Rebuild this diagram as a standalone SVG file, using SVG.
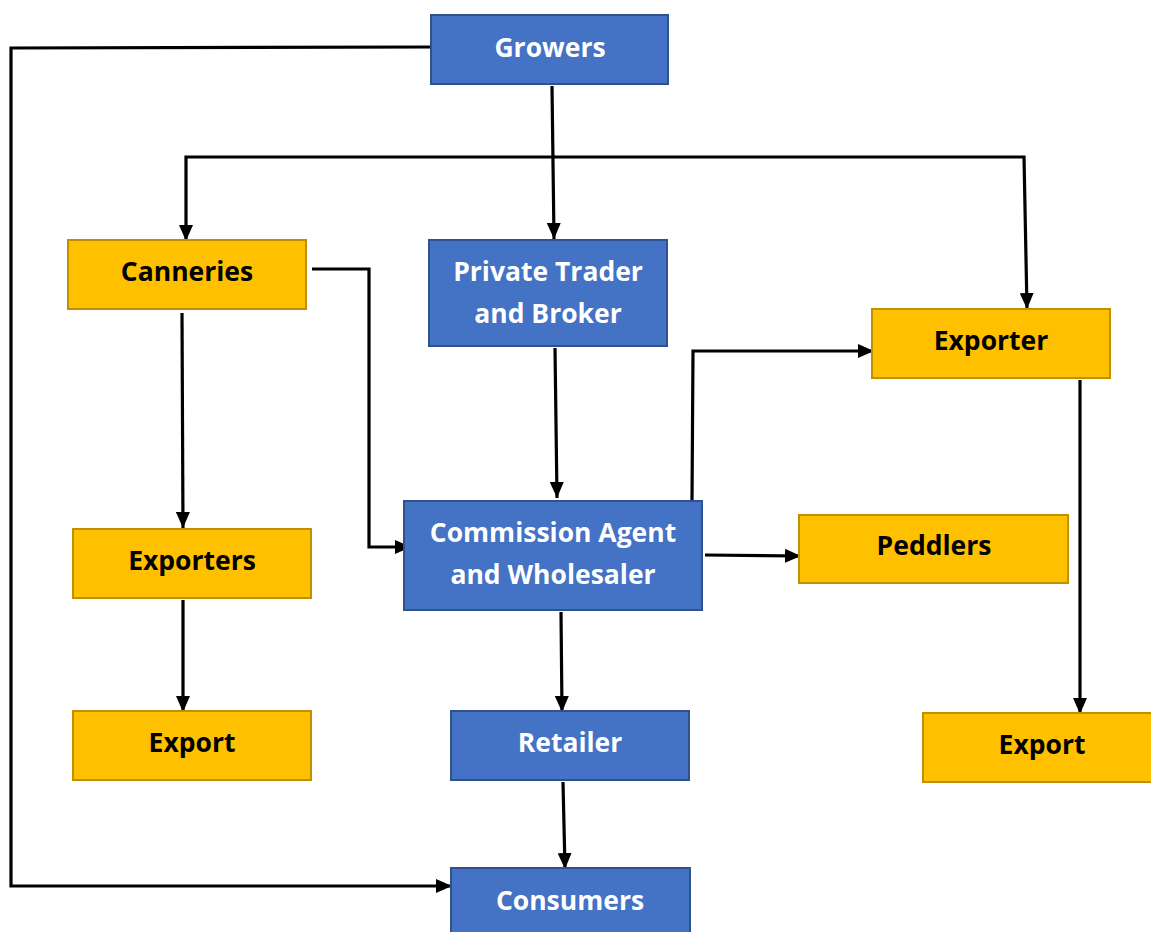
<svg xmlns="http://www.w3.org/2000/svg" width="1151" height="932" viewBox="0 0 1151 932">
  <defs>
    <marker id="arrow" viewBox="0 0 16 14" refX="16" refY="7" markerWidth="16" markerHeight="14" markerUnits="userSpaceOnUse" orient="auto">
      <path d="M0,0 L16,7 L0,14 Z" fill="#000"/>
    </marker>
    <style>
      .blue { fill: #4472C4; stroke: #2F528F; stroke-width: 2; }
      .gold { fill: #FFC000; stroke: #BF9000; stroke-width: 2; }
      .lbl { font-family: "Open Sans", "Liberation Sans", sans-serif; font-weight: 700; font-size: 26.5px; text-anchor: middle; }
      .lw { fill: #FFFFFF; }
      .lk { fill: #000000; }
      .wire { fill: none; stroke: #000; stroke-width: 3.2; }
      .arr { marker-end: url(#arrow); }
    </style>
  </defs>
  <rect width="1151" height="932" fill="#FFFFFF"/>

  <g id="connectors">
    <!-- growers straight to consumers -->
    <polyline class="wire arr" points="431,47 11,48 11,886 452,886"/>
    <!-- growers to private trader -->
    <line class="wire arr" x1="552" y1="86" x2="554" y2="239"/>
    <!-- distribution bar to canneries and exporter -->
    <polyline class="wire arr" points="554,157 186,157 186,241"/>
    <polyline class="wire arr" points="552,157 1024,157 1027,309"/>
    <!-- canneries to commission agent -->
    <polyline class="wire arr" points="312,269 369,269 369,547 411,547"/>
    <!-- canneries to exporters -->
    <line class="wire arr" x1="182" y1="313" x2="183" y2="528"/>
    <!-- private trader to commission agent -->
    <line class="wire arr" x1="555" y1="348" x2="557" y2="498"/>
    <!-- commission agent to exporter -->
    <polyline class="wire arr" points="692,501 693,351 874,351"/>
    <!-- commission agent to peddlers -->
    <line class="wire arr" x1="705" y1="555" x2="801" y2="556"/>
    <!-- commission agent to retailer -->
    <line class="wire arr" x1="561" y1="612" x2="562" y2="712"/>
    <!-- exporter to export -->
    <line class="wire arr" x1="1080" y1="380" x2="1080" y2="714"/>
    <!-- exporters to export -->
    <line class="wire arr" x1="183" y1="600" x2="183" y2="712"/>
    <!-- retailer to consumers -->
    <line class="wire arr" x1="563" y1="782" x2="565" y2="869"/>
  </g>

  <g id="growers">
    <rect class="blue" x="431" y="15" width="237" height="69"/>
    <text class="lbl lw" x="550" y="57">Growers</text>
  </g>
  <g id="canneries">
    <rect class="gold" x="68" y="240" width="238" height="69"/>
    <text class="lbl lk" x="187" y="281">Canneries</text>
  </g>
  <g id="private-trader">
    <rect class="blue" x="429" y="240" width="238" height="106"/>
    <text class="lbl lw" x="548" y="281">Private Trader</text>
    <text class="lbl lw" x="548" y="323">and Broker</text>
  </g>
  <g id="exporter">
    <rect class="gold" x="872" y="309" width="238" height="69"/>
    <text class="lbl lk" x="991" y="350">Exporter</text>
  </g>
  <g id="exporters">
    <rect class="gold" x="73" y="529" width="238" height="69"/>
    <text class="lbl lk" x="192" y="570">Exporters</text>
  </g>
  <g id="commission-agent">
    <rect class="blue" x="404" y="501" width="298" height="109"/>
    <text class="lbl lw" x="553" y="542">Commission Agent</text>
    <text class="lbl lw" x="553" y="584">and Wholesaler</text>
  </g>
  <g id="peddlers">
    <rect class="gold" x="799" y="515" width="269" height="68"/>
    <text class="lbl lk" x="934" y="555">Peddlers</text>
  </g>
  <g id="export-left">
    <rect class="gold" x="73" y="711" width="238" height="69"/>
    <text class="lbl lk" x="192" y="752">Export</text>
  </g>
  <g id="retailer">
    <rect class="blue" x="451" y="711" width="238" height="69"/>
    <text class="lbl lw" x="570" y="752">Retailer</text>
  </g>
  <g id="export-right">
    <rect class="gold" x="923" y="713" width="240" height="69"/>
    <text class="lbl lk" x="1042" y="754">Export</text>
  </g>
  <g id="consumers">
    <rect class="blue" x="451" y="868" width="239" height="80"/>
    <text class="lbl lw" x="570" y="910">Consumers</text>
  </g>
</svg>
